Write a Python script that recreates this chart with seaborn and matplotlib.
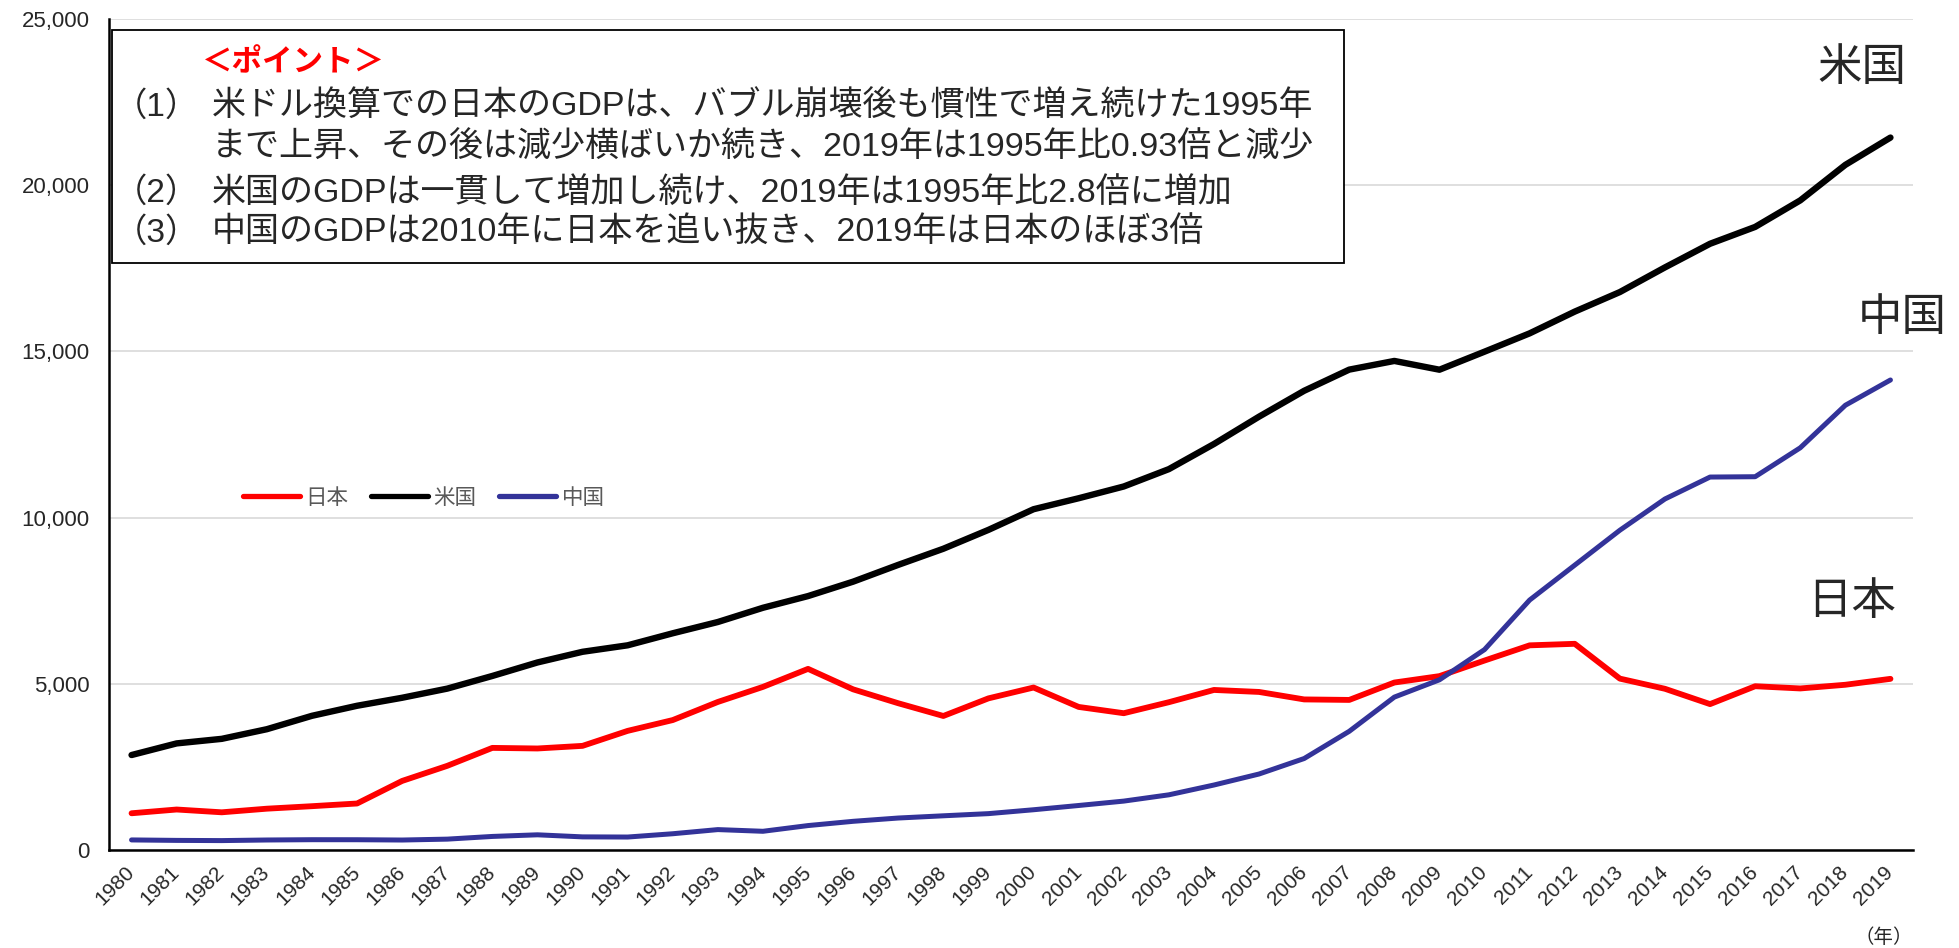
import matplotlib
matplotlib.use('Agg')
import matplotlib.pyplot as plt
from matplotlib.patches import Rectangle
from matplotlib.lines import Line2D
from matplotlib.ticker import FuncFormatter
import seaborn as sns
import pandas as pd

# GDP (billion US$)
years = list(range(1980, 2020))
japan = [1105, 1218, 1134, 1243, 1318, 1399, 2078, 2532, 3072, 3054,
         3133, 3584, 3909, 4454, 4907, 5449, 4833, 4415, 4032, 4562,
         4888, 4304, 4115, 4446, 4815, 4755, 4530, 4515, 5038, 5231,
         5700, 6157, 6203, 5156, 4850, 4389, 4927, 4860, 4971, 5149]
usa = [2857, 3207, 3344, 3634, 4037, 4339, 4580, 4855, 5236, 5642,
       5963, 6158, 6520, 6859, 7287, 7639, 8073, 8578, 9063, 9631,
       10252, 10582, 10936, 11458, 12214, 13037, 13815, 14452, 14713, 14449,
       14992, 15543, 16197, 16785, 17527, 18238, 18745, 19543, 20612, 21433]
china = [303, 289, 283, 301, 310, 309, 300, 327, 408, 457,
         395, 390, 489, 614, 563, 735, 863, 962, 1029, 1094,
         1211, 1339, 1471, 1660, 1955, 2286, 2752, 3571, 4600, 5120,
         6030, 7520, 8570, 9620, 10560, 11220, 11230, 12100, 13380, 14140]

names = ['日本', '米国', '中国']
colors = ['#FF0000', '#000000', '#333399']
widths = [4.2, 4.6, 3.6]

points = ['＜ポイント＞']
nums = ['（1）', '', '（2）', '（3）']
lines = ['米ドル換算での日本のGDPは、バブル崩壊後も慣性で増え続けた1995年',
         'まで上昇、その後は減少横ばいか続き、2019年は1995年比0.93倍と減少',
         '米国のGDPは一貫して増加し続け、2019年は1995年比2.8倍に増加',
         '中国のGDPは2010年に日本を追い抜き、2019年は日本のほぼ3倍']

sns.set_theme(style='white')
plt.rcParams['font.family'] = ['Liberation Sans', 'Noto Sans CJK JP', 'DejaVu Sans']

W, H = 1959, 948
fig = plt.figure(figsize=(W / 100, H / 100), dpi=100)
ax = fig.add_axes([109 / W, 1 - 850 / H, (1913 - 109) / W, (850 - 19) / H])

df = pd.DataFrame({'year': years * 3,
                   'gdp': japan + usa + china,
                   'country': [names[0]] * 40 + [names[1]] * 40 + [names[2]] * 40})

for name, c, lw in zip(names, colors, widths):
    sns.lineplot(data=df[df['country'] == name], x='year', y='gdp', color=c,
                 linewidth=lw, ax=ax, legend=False, solid_capstyle='round')

ax.set_xlim(1979.5, 2019.5)
ax.set_ylim(0, 25000)
ax.set_yticks(range(0, 25001, 5000))
ax.yaxis.set_major_formatter(FuncFormatter(lambda v, p: f'{v:,.0f}'))
ax.set_xticks(years)
ax.set_xticklabels([str(y) for y in years], rotation=45, ha='right', va='center',
                   rotation_mode='anchor', fontsize=15)
ax.tick_params(axis='y', labelsize=16, length=0, pad=14)
ax.tick_params(axis='x', length=0, pad=14)
ax.set_xlabel('')
ax.set_ylabel('')
ax.grid(axis='y', color='#d9d9d9', linewidth=1.2)
ax.set_axisbelow(True)
for s in ['top', 'right']:
    ax.spines[s].set_visible(False)
for s in ['left', 'bottom']:
    ax.spines[s].set_color('black')
    ax.spines[s].set_linewidth(1.8)

handles = [Line2D([], [], color=c, lw=3.8, solid_capstyle='round') for c in colors]
leg = fig.legend(handles, names, loc='center left', bbox_to_anchor=(243 / W, 1 - 498 / H),
                 ncol=3, frameon=False, fontsize=15.5, handlelength=2.65,
                 handletextpad=0.25, columnspacing=1.05, borderpad=0, borderaxespad=0)
for t in leg.get_texts():
    t.set_color('#595959')

# note box
fig.patches.append(Rectangle((112 / W, 1 - 263 / H), (1344 - 112) / W, (263 - 30) / H,
                             transform=fig.transFigure, fill=True, facecolor='white',
                             edgecolor='black', linewidth=1.3, zorder=5))
fig.text(202 / W, 1 - 63 / H, points[0], color='#FF0000', fontsize=22,
         fontweight='bold', ha='left', va='center', zorder=6)
ys = [107, 148, 193, 233]
for n, t, y in zip(nums, lines, ys):
    if n:
        fig.text(114 / W, 1 - y / H, n, fontsize=24, ha='left', va='center', zorder=6)
    fig.text(212 / W, 1 - y / H, t, fontsize=24.5, ha='left', va='center', zorder=6)

# series labels on the right
fig.text(1817 / W, 1 - 69 / H, '米国', fontsize=32, ha='left', va='center')
fig.text(1858 / W, 1 - 319 / H, '中国', fontsize=32, ha='left', va='center')
fig.text(1807 / W, 1 - 603 / H, '日本', fontsize=32, ha='left', va='center')

fig.text(1855 / W, 1 - 938 / H, '（年）', fontsize=14, ha='left', va='center')

fig.savefig('out.png', dpi=100)
